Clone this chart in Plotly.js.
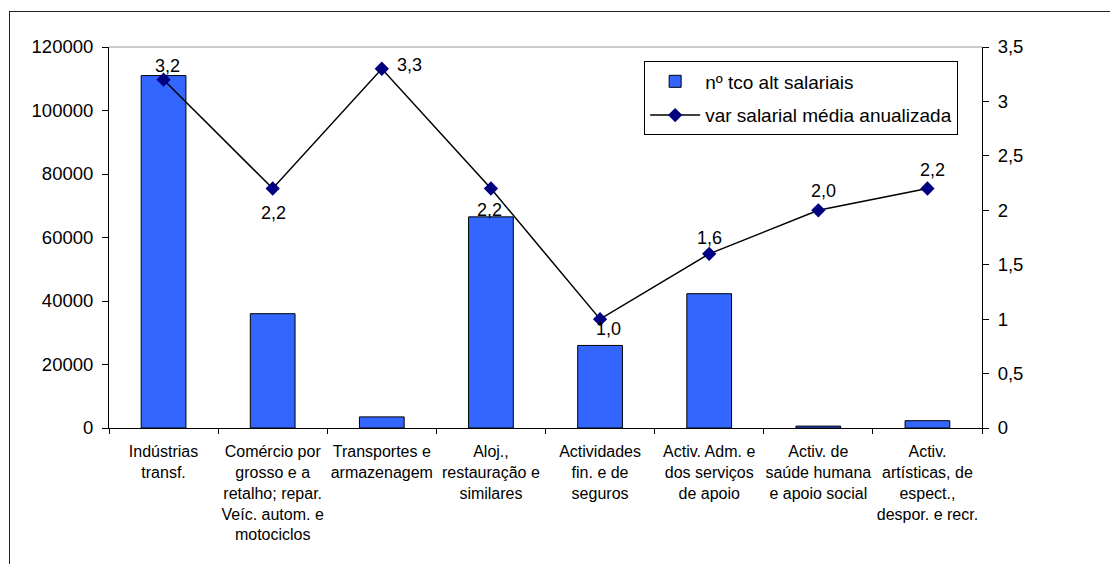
<!DOCTYPE html>
<html>
<head>
<meta charset="utf-8">
<script src="https://cdn.plot.ly/plotly-3.0.1.min.js"></script>
<style>
  html, body { margin: 0; padding: 0; background: #fff; overflow: hidden; }
  #frame { position: absolute; left: 9px; top: 11px; width: 1200px; height: 700px;
           border: 1px solid #222; pointer-events: none; z-index: 5; }
  #chart { position: absolute; left: 0; top: 0; width: 1110px; height: 564px; }
</style>
</head>
<body>
<div id="chart"></div>
<div id="frame"></div>
<script>
// Sectors of activity
const categories = [
  "Indústrias<br>transf.",
  "Comércio por<br>grosso e a<br>retalho; repar.<br>Veíc. autom. e<br>motociclos",
  "Transportes e<br>armazenagem",
  "Aloj.,<br>restauração e<br>similares",
  "Actividades<br>fin. e de<br>seguros",
  "Activ. Adm. e<br>dos serviços<br>de apoio",
  "Activ. de<br>saúde humana<br>e apoio social",
  "Activ.<br>artísticas, de<br>espect.,<br>despor. e recr."
];

// Number of workers with wage changes
const workers = [111000, 36000, 3500, 66500, 26000, 42300, 600, 2300];

// Average annualised wage change (%)
const wageChange = [3.2, 2.2, 3.3, 2.2, 1.0, 1.6, 2.0, 2.2];

const seriesNames = ["nº tco alt salariais", "var salarial média anualizada"];

// Label placement around each line point (pixels)
const labelDx = [4, 1, 28, -1, 8, 0, 5, 5];
const labelDy = [-14, 24, -4, 21, 10, -16, -19, -19];

const font = "Liberation Sans, Arial, sans-serif";

const fmt = v => v.toFixed(1).replace('.', ',');

const traces = [
  {
    type: 'bar',
    name: seriesNames[0],
    x: categories,
    y: workers,
    width: 0.41,
    marker: { color: '#3366FF', line: { color: '#000', width: 1 } },
    legendgroup: 'a',
    hoverinfo: 'x+y'
  },
  {
    type: 'scatter',
    mode: 'lines+markers',
    name: seriesNames[1],
    x: categories,
    y: wageChange,
    yaxis: 'y2',
    line: { color: '#000', width: 1.5 },
    marker: { symbol: 'diamond', color: '#000080', size: 11 },
    legendgroup: 'b'
  }
];

const annotations = wageChange.map((v, i) => ({
  x: categories[i],
  y: v,
  yref: 'y2',
  text: fmt(v),
  showarrow: false,
  xshift: labelDx[i],
  yshift: -labelDy[i],
  font: { family: font, size: 18, color: '#000' }
}));

const layout = {
  width: 1110,
  height: 564,
  margin: { l: 109, r: 128, t: 47, b: 136 },
  paper_bgcolor: 'rgba(0,0,0,0)',
  plot_bgcolor: '#fff',
  separators: ',.',
  font: { family: font, size: 18, color: '#000' },
  showlegend: true,
  legend: {
    x: 0.613, y: 0.962, xanchor: 'left', yanchor: 'top',
    bgcolor: '#fff', bordercolor: '#000', borderwidth: 1,
    font: { family: font, size: 19, color: '#000' },
    traceorder: 'grouped', tracegroupgap: 6,
    itemwidth: 50
  },
  xaxis: {
    type: 'category',
    showline: true, linecolor: '#000', linewidth: 1,
    ticks: 'outside', ticklen: 5, tickcolor: '#000',
    tickson: 'boundaries',
    tickangle: 0,
    showgrid: false, zeroline: false,
    tickfont: { family: font, size: 16, color: '#000' },
    ticklabelstandoff: 9
  },
  yaxis: {
    range: [0, 120000], dtick: 20000, tickformat: 'd',
    showline: true, linecolor: '#000', linewidth: 1,
    ticks: 'outside', ticklen: 6, tickcolor: '#000',
    showgrid: false, zeroline: false,
    tickfont: { family: font, size: 18.5, color: '#000' },
    ticklabelstandoff: 5
  },
  yaxis2: {
    overlaying: 'y', side: 'right',
    range: [0, 3.5], dtick: 0.5,
    showline: true, linecolor: '#000', linewidth: 1,
    ticks: 'outside', ticklen: 6, tickcolor: '#000',
    showgrid: false, zeroline: false,
    tickfont: { family: font, size: 18.5, color: '#000' },
    ticklabelstandoff: 5
  },
  shapes: [
    { type: 'line', xref: 'paper', yref: 'paper', x0: 0, x1: 1, y0: 1, y1: 1,
      line: { color: '#999', width: 1 } }
  ],
  annotations: annotations
};

Plotly.newPlot('chart', traces, layout, { displayModeBar: false, staticPlot: true });
</script>
</body>
</html>
